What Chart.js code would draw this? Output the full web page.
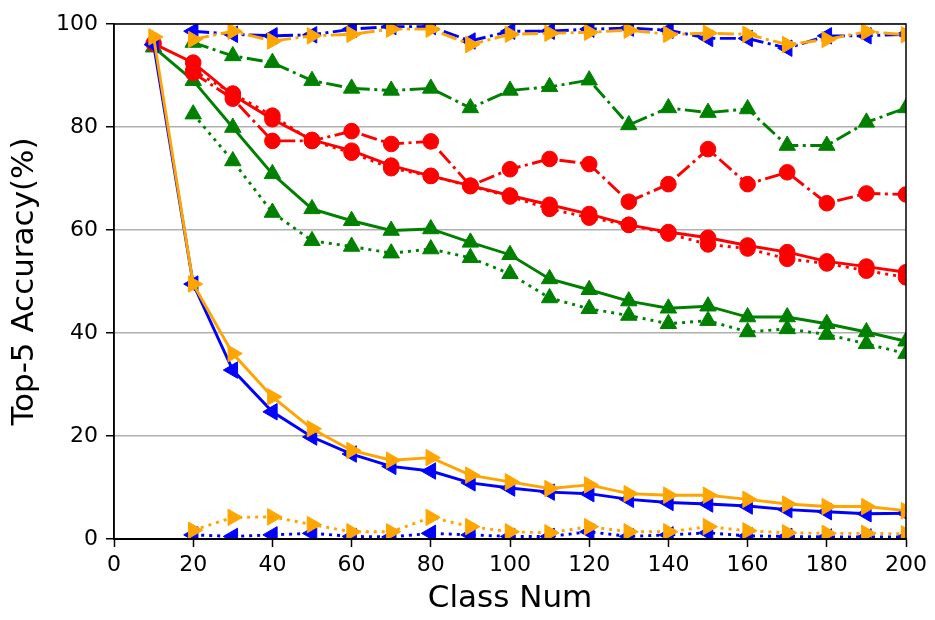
<!DOCTYPE html>
<html>
<head>
<meta charset="utf-8">
<script src="https://cdn.jsdelivr.net/npm/chart.js@4.4.1/dist/chart.umd.min.js"></script>
<style>
  html, body { margin: 0; padding: 0; background: #fff; }
</style>
</head>
<body>
<canvas id="grafico" width="935" height="620"></canvas>
<script>
// Número de clases en cada paso
const clases = [10, 20, 30, 40, 50, 60, 70, 80, 90, 100, 110, 120, 130, 140, 150, 160, 170, 180, 190, 200];
const ticksX = [0, 20, 40, 60, 80, 100, 120, 140, 160, 180, 200];
const ticksY = [0, 20, 40, 60, 80, 100];

// Serie azul (triángulo izquierda)
const azulTotal = [96, 49.5, 32.8, 24.7, 19.8, 16.5, 14.1, 13.2, 10.9, 9.9, 9.1, 8.8, 7.7, 7.1, 6.8, 6.4, 5.7, 5.3, 4.9, 5.0];
const azulPunteado = [null, 0.8, 0.5, 0.8, 1.1, 0.5, 0.4, 1.1, 0.8, 0.5, 0.5, 1.4, 0.5, 0.8, 1.2, 0.6, 0.5, 0.4, 0.4, 0.4];
const azulRaya = [null, 98.6, 98, 97.7, 97.9, 99, 99.5, 99.5, 96.7, 98.6, 98.6, 99, 99.2, 98.8, 97.2, 97.2, 95.3, 97.7, 97.7, 98];

// Serie naranja (triángulo derecha)
const naranjaTotal = [97.5, 49.5, 36, 27.6, 21.4, 17.2, 15.3, 15.8, 12.4, 11.1, 9.8, 10.5, 8.8, 8.5, 8.5, 7.7, 6.8, 6.3, 6.3, 5.5];
const naranjaPunteado = [null, 1.7, 4.2, 4.3, 2.8, 1.4, 1.4, 4.2, 2.4, 1.4, 1.2, 2.4, 1.4, 1.4, 2.4, 1.6, 1.2, 1.1, 1.1, 1.0];
const naranjaRaya = [null, 97, 98.6, 96.7, 97.7, 98, 99, 99, 96, 98, 98.2, 98.4, 98.8, 98, 98.2, 98, 96, 97, 98.5, 97.9];

// Serie verde (triángulo arriba)
const verdeTotal = [95.5, 89, 79.9, 70.9, 64.1, 61.8, 59.9, 60.2, 57.6, 55.2, 50.5, 48.4, 46.2, 44.8, 45.2, 43.1, 43.1, 41.8, 40.2, 38.4];
const verdePunteado = [null, 82.5, 73.4, 63.4, 57.9, 56.8, 55.5, 56.3, 54.6, 51.5, 46.8, 44.7, 43.4, 41.8, 42.4, 40.2, 40.8, 39.7, 37.9, 36];
const verdeRaya = [null, 96.4, 93.8, 92.5, 89, 87.5, 87.1, 87.5, 83.7, 87.1, 87.8, 89.1, 80.4, 83.7, 82.8, 83.5, 76.4, 76.4, 80.9, 83.7];

// Serie roja (círculo)
const rojoTotal = [96.2, 92.5, 86.2, 81.5, 77.5, 75.4, 72.5, 70.5, 68.6, 66.7, 64.9, 63.1, 61, 59.6, 58.5, 57, 55.7, 53.9, 52.9, 51.8];
const rojoPunteado = [null, 91, 86.5, 82.2, 77.3, 75, 72, 70.5, 68.5, 66.5, 64.1, 62.4, 61, 59.3, 57.2, 56.4, 54.4, 53.5, 52.1, 50.8];
const rojoRaya = [null, 90.5, 85.5, 77.3, 77.3, 79.2, 76.7, 77.2, 68.6, 71.8, 73.8, 72.8, 65.5, 68.9, 75.7, 68.9, 71.2, 65.2, 67.1, 66.9];

const PUNTEADO = [3, 5];
const RAYA_PUNTO = [16, 4.5, 3, 4.5];

function puntos(valores) {
    return clases.map((c, i) => ({ x: c, y: valores[i] }));
}

function serie(valores, color, estilo, dash) {
    return {
        data: puntos(valores),
        borderColor: color,
        backgroundColor: color,
        borderWidth: 2.9,
        borderDash: dash,
        borderCapStyle: 'butt',
        pointStyle: estilo.forma,
        rotation: estilo.giro,
        pointRadius: estilo.radio,
        pointBorderWidth: 1,
        pointHoverRadius: estilo.radio,
        tension: 0,
        clip: 0
    };
}

const izq = { forma: 'triangle', giro: 270, radio: 9.5 };
const der = { forma: 'triangle', giro: 90, radio: 9.5 };
const arriba = { forma: 'triangle', giro: 0, radio: 9.5 };
const circulo = { forma: 'circle', giro: 0, radio: 7.8 };

// Marco negro alrededor del área del gráfico
const marco = {
    id: 'marco',
    afterDraw(chart) {
        const { ctx, chartArea: a } = chart;
        ctx.save();
        ctx.strokeStyle = '#000';
        ctx.lineWidth = 1.5;
        ctx.strokeRect(a.left, a.top, a.right - a.left, a.bottom - a.top);
        ctx.lineWidth = 2.2;
        ctx.beginPath();
        ctx.moveTo(a.left, a.bottom);
        ctx.lineTo(a.right, a.bottom);
        ctx.stroke();
        ctx.restore();
    }
};

Chart.defaults.font.family = "'DejaVu Sans', sans-serif";
Chart.defaults.color = '#000';

const ctx = document.getElementById('grafico').getContext('2d');
new Chart(ctx, {
    type: 'line',
    data: {
        datasets: [
            serie(naranjaTotal, '#ffa500', der, []),
            serie(naranjaPunteado, '#ffa500', der, PUNTEADO),
            serie(naranjaRaya, '#ffa500', der, RAYA_PUNTO),
            serie(azulTotal, '#0000ff', izq, []),
            serie(azulPunteado, '#0000ff', izq, PUNTEADO),
            serie(azulRaya, '#0000ff', izq, RAYA_PUNTO),
            serie(rojoTotal, '#ff0000', circulo, []),
            serie(rojoPunteado, '#ff0000', circulo, PUNTEADO),
            serie(rojoRaya, '#ff0000', circulo, RAYA_PUNTO),
            serie(verdeTotal, '#008000', arriba, []),
            serie(verdePunteado, '#008000', arriba, PUNTEADO),
            serie(verdeRaya, '#008000', arriba, RAYA_PUNTO)
        ]
    },
    options: {
        responsive: false,
        animation: false,
        layout: { padding: { left: 0, right: 29, top: 24, bottom: 0 } },
        plugins: {
            legend: { display: false },
            tooltip: { enabled: false }
        },
        scales: {
            x: {
                type: 'linear',
                min: 0,
                max: 200,
                afterBuildTicks: (scale) => { scale.ticks = ticksX.map(v => ({ value: v })); },
                afterFit: (scale) => { scale.height = 81; },
                ticks: { font: { size: 22 }, padding: 5, maxRotation: 0 },
                grid: { drawOnChartArea: false, tickColor: '#000', tickLength: 8, tickWidth: 1.5 },
                border: { color: '#000', width: 1.5 },
                title: { display: true, text: 'Class Num', font: { size: 31 }, padding: { top: 0, bottom: 2 } }
            },
            y: {
                min: 0,
                max: 100,
                afterBuildTicks: (scale) => { scale.ticks = ticksY.map(v => ({ value: v })); },
                afterFit: (scale) => { scale.width = 114; },
                ticks: { font: { size: 22 }, padding: 8 },
                grid: { color: '#b0b0b0', lineWidth: 1.5, tickColor: '#000', tickLength: 8, tickWidth: 1.5 },
                border: { color: '#000', width: 1.5 },
                title: { display: true, text: 'Top-5 Accuracy(%)', font: { size: 31 }, padding: { top: 6, bottom: 0 } }
            }
        }
    },
    plugins: [marco]
});
</script>
</body>
</html>
